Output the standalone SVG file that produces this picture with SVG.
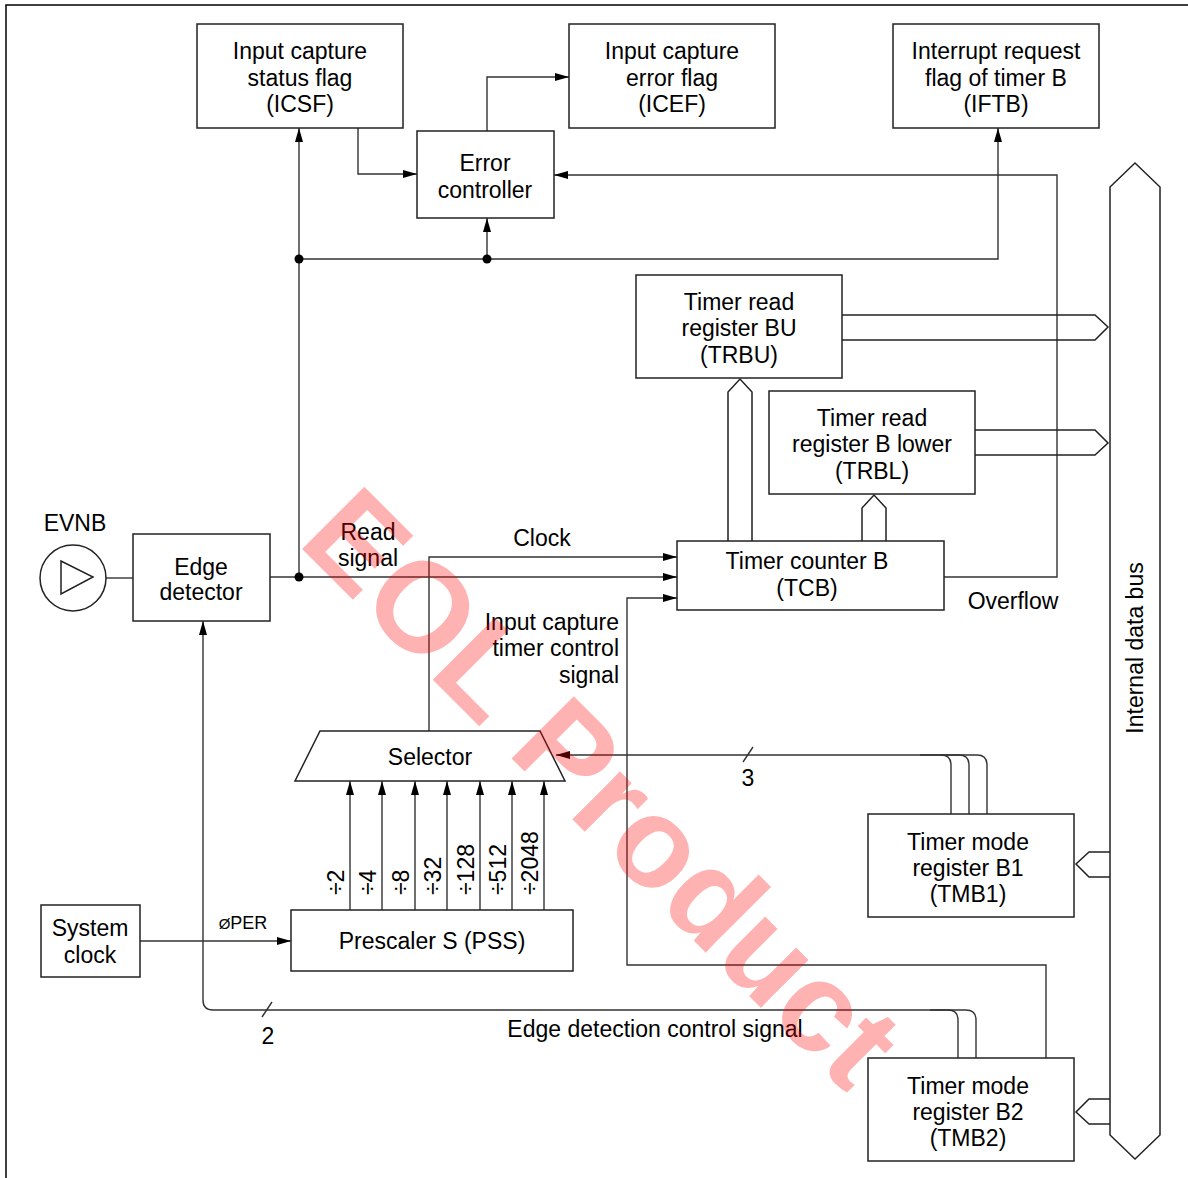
<svg xmlns="http://www.w3.org/2000/svg" width="1188" height="1178" viewBox="0 0 1188 1178">
<defs>
<marker id="ah" viewBox="0 0 14 8" refX="14" refY="4" markerWidth="14" markerHeight="8" orient="auto" markerUnits="userSpaceOnUse"><path d="M0,0 L14,4 L0,8 z" fill="#000"/></marker>
<style>
.box{fill:#fff;stroke:#222;stroke-width:1.5}
.ln{fill:none;stroke:#333;stroke-width:1.4}
.bus{fill:none;stroke:#222;stroke-width:1.5}
.arr{marker-end:url(#ah)}
text{font-family:"Liberation Sans",Arial,sans-serif;font-size:23px;fill:#000}
.c{text-anchor:middle}
.r{text-anchor:end}
.wm{font-family:"Liberation Sans",Arial,sans-serif;font-weight:bold;font-size:128px;fill:#ff0000;fill-opacity:0.3}
</style>
</defs>
<rect width="1188" height="1178" fill="#fff"/>
<path d="M6,1178 V5 H1188" fill="none" stroke="#000" stroke-width="1.5"/>

<g id="connectors">
<path class="ln" d="M106,578 H133"/>
<path class="ln arr" d="M270,577 H677"/>
<path class="ln arr" d="M299,577 V128"/>
<path class="ln arr" d="M299,259 H998 V128"/>
<path class="ln arr" d="M487,259 V218"/>
<path class="ln arr" d="M358,128 V174 H417"/>
<path class="ln arr" d="M487,131 V77 H569"/>
<path class="ln arr" d="M944,577 H1057 V175 H554"/>
<path class="ln arr" d="M429,731 V557 H677"/>
<path class="ln arr" d="M1046,1058 V965 H627 V598 H677"/>
<path class="ln arr" d="M987,814 V765 Q987,755 977,755 H556"/>
<path class="ln" d="M969,814 V765 Q969,755 959,755 H940"/>
<path class="ln" d="M951,814 V765 Q951,755 941,755 H920"/>
<path class="ln" d="M743,762 L753,747"/>
<path class="ln arr" d="M976,1058 V1020 Q976,1010 966,1010 H213 Q203,1010 203,1000 V621"/>
<path class="ln" d="M958,1058 V1020 Q958,1010 948,1010 H930"/>
<path class="ln" d="M262,1017 L272,1002"/>
<path class="ln arr" d="M140,941 H291"/>
<path class="ln arr" d="M350,910 V781"/>
<path class="ln arr" d="M382,910 V781"/>
<path class="ln arr" d="M415,910 V781"/>
<path class="ln arr" d="M447,910 V781"/>
<path class="ln arr" d="M480,910 V781"/>
<path class="ln arr" d="M512,910 V781"/>
<path class="ln arr" d="M544,910 V781"/>
<path class="bus" d="M842,315 H1095 L1108,327 L1095,340 H842"/>
<path class="bus" d="M975,430 H1095 L1108,443 L1095,455 H975"/>
<path class="bus" d="M728,541 V392 L740,379 L752,392 V541"/>
<path class="bus" d="M862,541 V508 L874,495 L886,508 V541"/>
<path class="bus" d="M1110,852 H1089 L1076,864 L1089,877 H1110"/>
<path class="bus" d="M1110,1099 H1089 L1076,1112 L1089,1124 H1110"/>
<circle cx="299" cy="577" r="4.5" fill="#000"/>
<circle cx="299" cy="259" r="4.5" fill="#000"/>
<circle cx="487" cy="259" r="4.5" fill="#000"/>
<text x="368" y="540" class="c">Read</text>
<text x="368" y="566" class="c">signal</text>
<text x="542" y="546" class="c">Clock</text>
<text x="619" y="630" class="r">Input capture</text>
<text x="619" y="656" class="r">timer control</text>
<text x="619" y="683" class="r">signal</text>
<text x="1013" y="609" class="c">Overflow</text>
<text x="748" y="786" class="c">3</text>
<text x="268" y="1044" class="c">2</text>
<text x="655" y="1037" class="c">Edge detection control signal</text>
<text x="243" y="929" class="c"><tspan font-size="15">Ø</tspan><tspan font-size="18">PER</tspan></text>
<text transform="translate(344,895) rotate(-90)">÷2</text>
<text transform="translate(376,895) rotate(-90)">÷4</text>
<text transform="translate(409,895) rotate(-90)">÷8</text>
<text transform="translate(441,895) rotate(-90)">÷32</text>
<text transform="translate(474,895) rotate(-90)">÷128</text>
<text transform="translate(506,895) rotate(-90)">÷512</text>
<text transform="translate(538,895) rotate(-90)">÷2048</text>
</g>

<g id="icsf"><rect class="box" x="197" y="24" width="206" height="104"/>
<text x="300" y="59" class="c">Input capture</text><text x="300" y="86" class="c">status flag</text><text x="300" y="112" class="c">(ICSF)</text></g>
<g id="icef"><rect class="box" x="569" y="24" width="206" height="104"/>
<text x="672" y="59" class="c">Input capture</text><text x="672" y="86" class="c">error flag</text><text x="672" y="112" class="c">(ICEF)</text></g>
<g id="iftb"><rect class="box" x="893" y="24" width="206" height="104"/>
<text x="996" y="59" class="c">Interrupt request</text><text x="996" y="86" class="c">flag of timer B</text><text x="996" y="112" class="c">(IFTB)</text></g>
<g id="errctl"><rect class="box" x="417" y="131" width="137" height="87"/>
<text x="485" y="171" class="c">Error</text><text x="485" y="198" class="c">controller</text></g>
<g id="trbu"><rect class="box" x="636" y="275" width="206" height="103"/>
<text x="739" y="310" class="c">Timer read</text><text x="739" y="336" class="c">register BU</text><text x="739" y="363" class="c">(TRBU)</text></g>
<g id="trbl"><rect class="box" x="769" y="391" width="206" height="103"/>
<text x="872" y="426" class="c">Timer read</text><text x="872" y="452" class="c">register B lower</text><text x="872" y="479" class="c">(TRBL)</text></g>
<g id="tcb"><rect class="box" x="677" y="541" width="267" height="69"/>
<text x="807" y="569" class="c">Timer counter B</text><text x="807" y="596" class="c">(TCB)</text></g>
<g id="edge"><rect class="box" x="133" y="534" width="137" height="87"/>
<text x="201" y="575" class="c">Edge</text><text x="201" y="600" class="c">detector</text></g>
<g id="evnb"><circle cx="73" cy="578" r="33" fill="#fff" stroke="#222" stroke-width="1.5"/>
<path d="M61,561 L61,594 L93,577 z" fill="none" stroke="#222" stroke-width="1.5"/>
<text x="75" y="531" class="c">EVNB</text></g>
<g id="selector"><path class="box" d="M320,731 H540 L565,781 H295 z"/>
<text x="430" y="765" class="c">Selector</text></g>
<g id="pss"><rect class="box" x="291" y="910" width="282" height="61"/>
<text x="432" y="949" class="c">Prescaler S (PSS)</text></g>
<g id="sysclk"><rect class="box" x="41" y="905" width="99" height="72"/>
<text x="90" y="936" class="c">System</text><text x="90" y="963" class="c">clock</text></g>
<g id="tmb1"><rect class="box" x="868" y="814" width="206" height="103"/>
<text x="968" y="850" class="c">Timer mode</text><text x="968" y="876" class="c">register B1</text><text x="968" y="902" class="c">(TMB1)</text></g>
<g id="tmb2"><rect class="box" x="868" y="1058" width="206" height="103"/>
<text x="968" y="1094" class="c">Timer mode</text><text x="968" y="1120" class="c">register B2</text><text x="968" y="1146" class="c">(TMB2)</text></g>
<g id="databus"><path class="box" d="M1135,163 L1160,187 V1135 L1135,1159 L1110,1135 V187 z"/>
<text transform="translate(1143,648) rotate(-90)" class="c">Internal data bus</text></g>

<text class="wm" transform="translate(296,543) rotate(45)">EOL Product</text>
</svg>
